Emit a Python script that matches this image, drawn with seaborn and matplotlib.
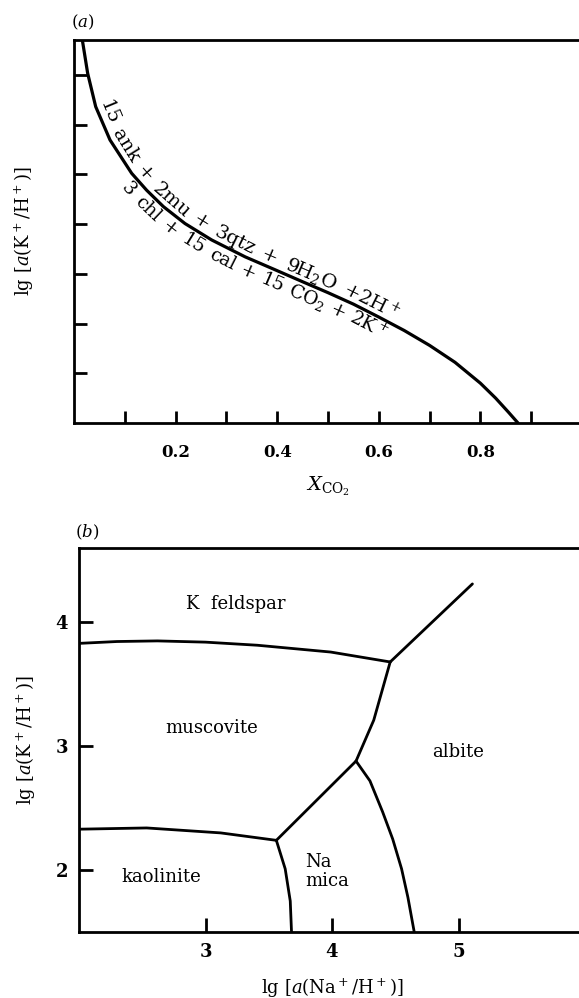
import numpy as np
import pandas as pd
import matplotlib
matplotlib.use("Agg")
import matplotlib.pyplot as plt
from matplotlib.transforms import IdentityTransform
import seaborn as sns

# ---------------- data: panel (a) ----------------
x_co2 = [0.0164, 0.0269, 0.0427, 0.0709, 0.1135, 0.143, 0.176, 0.2185, 0.271,
         0.337, 0.396, 0.45, 0.50, 0.55, 0.60, 0.65, 0.70, 0.75, 0.80, 0.83,
         0.855, 0.874]
lg_k_a = [7.70, 7.03, 6.36, 5.69, 5.02, 4.68, 4.35, 4.01, 3.68,
          3.34, 3.08, 2.84, 2.62, 2.39, 2.13, 1.86, 1.56, 1.22, 0.80, 0.50,
          0.22, 0.0]
a_xticks = [0.1, 0.2, 0.3, 0.4, 0.5, 0.6, 0.7, 0.8, 0.9]
a_xticklabels = ["", "0.2", "", "0.4", "", "0.6", "", "0.8", ""]
a_yticks = [1, 2, 3, 4, 5, 6, 7]
upper_tokens = ["15", "ank", "+", "2mu", "+", "3qtz", "+", "9H$_2$O", "+2H$^+$"]
lower_tokens = ["3", "chl", "+", "15", "cal", "+", "15", "CO$_2$", "+", "2K$^+$"]

# ---------------- data: panel (b) ----------------
kfs_mu_x = [2.0, 2.3, 2.62, 3.0, 3.41, 3.99, 4.46]
kfs_mu_y = [3.83, 3.845, 3.85, 3.84, 3.815, 3.76, 3.68]
kfs_ab_x = [4.46, 5.11]
kfs_ab_y = [3.68, 4.31]
mu_ab_x = [4.46, 4.33, 4.19]
mu_ab_y = [3.68, 3.21, 2.88]
mu_nam_x = [4.19, 3.56]
mu_nam_y = [2.88, 2.24]
kao_mu_x = [2.0, 2.535, 3.12, 3.56]
kao_mu_y = [2.33, 2.34, 2.30, 2.24]
kao_nam_x = [3.56, 3.63, 3.67, 3.68]
kao_nam_y = [2.24, 2.01, 1.75, 1.5]
nam_ab_x = [4.19, 4.30, 4.40, 4.48, 4.55, 4.60, 4.65]
nam_ab_y = [2.88, 2.72, 2.47, 2.25, 2.01, 1.78, 1.5]
b_xticks = [3, 4, 5]
b_yticks = [2, 3, 4]
field_names = ["K  feldspar", "muscovite", "albite", "kaolinite", "Na\nmica"]
field_x = [3.24, 3.05, 5.0, 2.65, 3.79]
field_y = [4.15, 3.15, 2.95, 1.94, 1.99]
field_ha = ["center", "center", "center", "center", "left"]

# ---------------- style ----------------
sns.set_theme(style="white")
plt.rcParams["font.family"] = ["DejaVu Serif"]
plt.rcParams["mathtext.fontset"] = "dejavuserif"
plt.rcParams["axes.linewidth"] = 2.0
for key in ("text.color", "axes.labelcolor", "xtick.color", "ytick.color", "axes.edgecolor"):
    plt.rcParams[key] = "black"

W, H = 579, 998
fig = plt.figure(figsize=(W / 100, H / 100), dpi=100)

def px_axes(left, top, right, bottom):
    return fig.add_axes([left / W, 1 - bottom / H, (right - left) / W, (bottom - top) / H])

ax1 = px_axes(74, 40, 582, 423)
ax2 = px_axes(79, 548, 585, 932)

# ---------- panel (a) ----------
df_a = pd.DataFrame({"x": x_co2, "y": lg_k_a})
sns.lineplot(data=df_a, x="x", y="y", sort=False, estimator=None,
             color="black", linewidth=2.3, ax=ax1)
ax1.set_xlim(0, 1.0)
ax1.set_ylim(0, 7.7)
ax1.set_xticks(a_xticks)
ax1.set_xticklabels(a_xticklabels, fontweight="bold", fontsize=12)
ax1.set_yticks(a_yticks)
ax1.set_yticklabels([])
ax1.tick_params(direction="in", length=9, width=2, color="black", pad=15)
ax1.tick_params(axis="x", bottom=True)
ax1.tick_params(axis="y", left=True)
ax1.set_xlabel(r"$X_{\mathrm{CO_2}}$", fontsize=14)
ax1.set_ylabel(r"lg [$a$(K$^+$/H$^+$)]", fontsize=13)
ax1.xaxis.set_label_coords(0.5, -0.135)
ax1.yaxis.set_label_coords(-0.075, 0.5)

# ---------- panel (b) ----------
rows = []
for name, xs, ys in [("kfs_mu", kfs_mu_x, kfs_mu_y), ("kfs_ab", kfs_ab_x, kfs_ab_y),
                     ("mu_ab", mu_ab_x, mu_ab_y), ("mu_nam", mu_nam_x, mu_nam_y),
                     ("kao_mu", kao_mu_x, kao_mu_y), ("kao_nam", kao_nam_x, kao_nam_y),
                     ("nam_ab", nam_ab_x, nam_ab_y)]:
    for i, (xv, yv) in enumerate(zip(xs, ys)):
        rows.append({"boundary": name, "order": i, "x": xv, "y": yv})
df_b = pd.DataFrame(rows)
sns.lineplot(data=df_b, x="x", y="y", units="boundary", sort=False, estimator=None,
             color="black", linewidth=2.0, ax=ax2)
ax2.set_xlim(2, 6)
ax2.set_ylim(1.5, 4.6)
ax2.set_xticks(b_xticks)
ax2.set_xticklabels([str(v) for v in b_xticks], fontweight="bold", fontsize=13)
ax2.set_yticks(b_yticks)
ax2.set_yticklabels([str(v) for v in b_yticks], fontweight="bold", fontsize=13)
ax2.tick_params(direction="in", length=10, width=2, color="black", pad=8)
ax2.tick_params(axis="x", bottom=True)
ax2.tick_params(axis="y", left=True)
ax2.set_xlabel(r"lg [$a$(Na$^+$/H$^+$)]", fontsize=13)
ax2.set_ylabel(r"lg [$a$(K$^+$/H$^+$)]", fontsize=13)
ax2.xaxis.set_label_coords(0.5, -0.115)
ax2.yaxis.set_label_coords(-0.082, 0.5)
for name, xv, yv, ha in zip(field_names, field_x, field_y, field_ha):
    ax2.text(xv, yv, name, fontsize=13, ha=ha, va="center", linespacing=1.1)

for ax in (ax1, ax2):
    ax.spines["right"].set_visible(False)
    for s in ("left", "top", "bottom"):
        ax.spines[s].set_color("black")
        ax.spines[s].set_linewidth(2.0)

fig.text(83 / W, 1 - 22 / H, r"($a$)", fontsize=12, ha="center", va="center")
fig.text(87 / W, 1 - 532 / H, r"($b$)", fontsize=12, ha="center", va="center")

# ---------- text along the curve of panel (a) ----------
fig.canvas.draw()
renderer = fig.canvas.get_renderer()
pts = ax1.transData.transform(np.column_stack([x_co2, lg_k_a]))
seg = np.diff(pts, axis=0)
seglen = np.hypot(seg[:, 0], seg[:, 1])
cum = np.concatenate([[0.0], np.cumsum(seglen)])

def point_at(s):
    i = int(np.clip(np.searchsorted(cum, s) - 1, 0, len(seg) - 1))
    t = (s - cum[i]) / seglen[i]
    return pts[i] + t * seg[i]

def curve_text(tokens, start, offset, fs, gap):
    s = start
    for tok in tokens:
        t = fig.text(0, 0, tok, fontsize=fs, transform=IdentityTransform(),
                     ha="center", va="baseline", rotation_mode="anchor")
        w = t.get_window_extent(renderer).width
        p0 = point_at(s)
        p1 = point_at(s + w)
        d = p1 - p0
        d = d / np.hypot(*d)
        n = np.array([-d[1], d[0]])
        c = point_at(s + w / 2) + n * offset
        t.set_position((c[0], c[1]))
        t.set_rotation(np.degrees(np.arctan2(d[1], d[0])))
        s += w + gap

curve_text(upper_tokens, 66, 5, 14, 9)
curve_text(lower_tokens, 148, -18, 13.5, 6.5)

fig.savefig("out.png", dpi=100)
